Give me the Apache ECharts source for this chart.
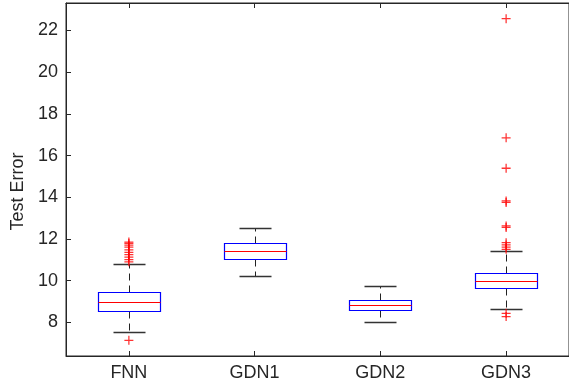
<!DOCTYPE html>
<html>
<head>
<meta charset="utf-8">
<script src="https://cdn.jsdelivr.net/npm/echarts@6/dist/echarts.min.js"></script>
<style>
html,body{margin:0;padding:0;background:#fff;}
#chart{width:569px;height:388px;}
</style>
</head>
<body>
<div id="chart"></div>
<script>
const categories = ['FNN', 'GDN1', 'GDN2', 'GDN3'];
const lowerWhisker = [7.53, 10.23, 7.99, 8.62];
const q1 = [8.54, 11.04, 8.61, 9.63];
const median = [8.95, 11.41, 8.82, 9.99];
const q3 = [9.43, 11.78, 9.06, 10.34];
const upperWhisker = [10.78, 12.5, 9.75, 11.42];
const outliersFNN = [11.85, 11.78, 11.7, 11.6, 11.47, 11.35, 11.25, 11.12, 11.0, 10.9, 7.13];
const outliersGDN1 = [];
const outliersGDN2 = [];
const outliersGDN3 = [22.57, 16.85, 15.39, 13.82, 13.75, 12.62, 12.55, 11.82, 11.71, 11.6, 11.5, 8.43, 8.27];
const yTicks = [8, 10, 12, 14, 16, 18, 20, 22];

const boxData = categories.map((c, i) => [i, lowerWhisker[i], q1[i], median[i], q3[i], upperWhisker[i]]);
const outlierData = [];
[outliersFNN, outliersGDN1, outliersGDN2, outliersGDN3].forEach((arr, i) => {
  arr.forEach(v => outlierData.push([i, v]));
});

const textColor = '#262626';
const fontFamily = '"Liberation Sans", Arial, Helvetica, sans-serif';

const chart = echarts.init(document.getElementById('chart'), null, {renderer: 'canvas'});
chart.setOption({
  animation: false,
  backgroundColor: '#fff',
  grid: {left: 66, right: -1, top: 3, bottom: 32, show: true, borderColor: textColor, borderWidth: 1, backgroundColor: 'transparent'},
  xAxis: [{
    type: 'category',
    data: categories,
    boundaryGap: true,
    axisLine: {show: true, lineStyle: {color: textColor, width: 1}},
    axisTick: {show: true, inside: true, alignWithLabel: true, length: 5, lineStyle: {color: textColor}},
    axisLabel: {color: textColor, fontSize: 18, fontFamily: fontFamily, margin: 8},
    splitLine: {show: false}
  }, {
    type: 'category',
    data: categories,
    position: 'top',
    boundaryGap: true,
    axisLine: {show: true, lineStyle: {color: textColor, width: 1}},
    axisTick: {show: true, inside: true, alignWithLabel: true, length: 5, lineStyle: {color: textColor}},
    axisLabel: {show: false},
    splitLine: {show: false}
  }],
  yAxis: {
    type: 'value',
    min: 6.38,
    max: 23.32,
    name: 'Test Error',
    nameLocation: 'middle',
    nameGap: 34,
    nameTextStyle: {color: textColor, fontSize: 18, fontFamily: fontFamily, padding: [0, 24, 0, 0]},
    axisLine: {show: true, lineStyle: {color: textColor, width: 1}},
    axisTick: {show: true, inside: true, length: 5, customValues: yTicks, lineStyle: {color: textColor}},
    axisLabel: {color: textColor, fontSize: 18, fontFamily: fontFamily, margin: 8, customValues: yTicks},
    splitLine: {show: false}
  },
  series: [{
    type: 'custom',
    xAxisIndex: 0,
    data: boxData,
    renderItem: function (params, api) {
      const x = api.value(0);
      const bw = api.size([1, 0])[0] * 0.5;
      const cx = Math.round(api.coord([x, 0])[0]) + 0.5;
      const y = v => Math.round(api.coord([x, v])[1]) + 0.5;
      const yLw = y(api.value(1)), yQ1 = y(api.value(2)), yMed = y(api.value(3)), yQ3 = y(api.value(4)), yUw = y(api.value(5));
      const half = Math.round(bw / 2);
      const capHalf = Math.round(bw / 4);
      const whiskerStyle = {stroke: '#222', lineWidth: 1, lineDash: [7, 5], fill: null};
      const capStyle = {stroke: '#333', lineWidth: 1.3, fill: null};
      return {
        type: 'group',
        children: [
          {type: 'line', shape: {x1: cx, y1: yQ3, x2: cx, y2: yUw}, style: whiskerStyle},
          {type: 'line', shape: {x1: cx, y1: yQ1, x2: cx, y2: yLw}, style: whiskerStyle},
          {type: 'line', shape: {x1: cx - capHalf, y1: yUw, x2: cx + capHalf, y2: yUw}, style: capStyle},
          {type: 'line', shape: {x1: cx - capHalf, y1: yLw, x2: cx + capHalf, y2: yLw}, style: capStyle},
          {type: 'rect', shape: {x: cx - half, y: yQ3, width: 2 * half, height: yQ1 - yQ3}, style: {stroke: '#0000ff', lineWidth: 1.2, fill: '#fff'}},
          {type: 'line', shape: {x1: cx - half, y1: yMed, x2: cx + half, y2: yMed}, style: {stroke: '#ff0000', lineWidth: 1.2}}
        ]
      };
    },
    z: 2
  }, {
    type: 'scatter',
    xAxisIndex: 0,
    data: outlierData,
    symbol: 'path://M0,4.3H10V5.7H0Z M4.3,0H5.7V10H4.3Z',
    symbolSize: 9,
    itemStyle: {color: '#ff0000'},
    z: 3
  }]
});
</script>
</body>
</html>
